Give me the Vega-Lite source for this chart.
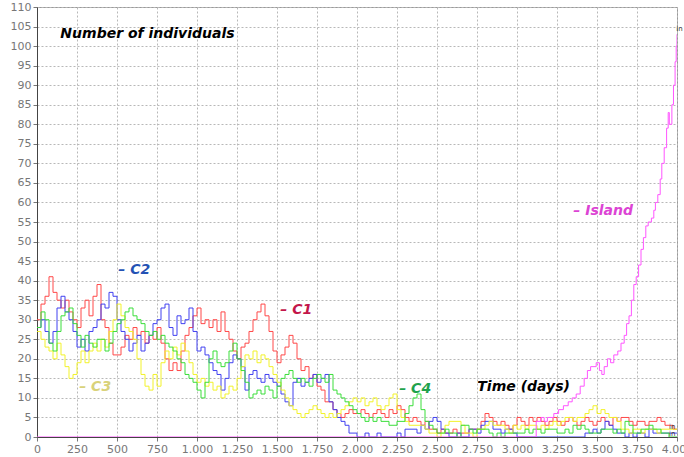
{
  "$schema": "https://vega.github.io/schema/vega-lite/v6.json",
  "width": 640,
  "height": 430,
  "autosize": {"type": "none"},
  "padding": {"left": 37, "top": 7, "right": 7, "bottom": 20},
  "background": "white",
  "config": {
    "view": {"stroke": "#999", "strokeWidth": 1},
    "axis": {
      "labelFont": "DejaVu Sans",
      "labelFontSize": 11,
      "labelColor": "#777",
      "grid": true,
      "gridColor": "#b8b8b8",
      "gridDash": [2, 2],
      "gridWidth": 1,
      "domainColor": "#444",
      "tickColor": "#777",
      "tickSize": 4,
      "labelPadding": 2,
      "title": null
    }
  },
  "resolve": {"scale": {"color": "independent"}},
  "encoding": {
    "x": {
      "field": "t", "type": "quantitative",
      "scale": {"domain": [0, 4000], "nice": false, "zero": false},
      "axis": {
        "values": [0,250,500,750,1000,1250,1500,1750,2000,2250,2500,2750,3000,3250,3500,3750,4000],
        "labelExpr": "replace(format(datum.value, ','), ',', '.')",
        "labelFlush": false,
        "labelOverlap": false
      }
    },
    "y": {
      "field": "v", "type": "quantitative",
      "scale": {"domain": [0, 110], "nice": false},
      "axis": {
        "values": [0,5,10,15,20,25,30,35,40,45,50,55,60,65,70,75,80,85,90,95,100,105,110],
        "labelOverlap": false
      }
    }
  },
  "layer": [
    {
      "data": {"values": [
        {"t":0,"C1":30,"C2":28,"C3":27,"C4":28},
        {"t":25,"C1":34,"C2":30,"C3":25,"C4":32},
        {"t":50,"C1":36,"C2":27,"C3":23,"C4":30},
        {"t":75,"C1":41,"C2":24,"C3":22,"C4":24},
        {"t":100,"C1":37,"C2":27,"C3":20,"C4":22},
        {"t":125,"C1":35,"C2":33,"C3":24,"C4":27},
        {"t":150,"C1":33,"C2":36,"C3":21,"C4":31},
        {"t":175,"C1":35,"C2":32,"C3":18,"C4":32},
        {"t":200,"C1":32,"C2":30,"C3":15,"C4":33},
        {"t":225,"C1":30,"C2":27,"C3":16,"C4":29},
        {"t":250,"C1":28,"C2":23,"C3":19,"C4":26},
        {"t":275,"C1":33,"C2":25,"C3":22,"C4":23},
        {"t":300,"C1":35,"C2":22,"C3":19,"C4":26},
        {"t":325,"C1":31,"C2":27,"C3":22,"C4":24},
        {"t":350,"C1":36,"C2":28,"C3":24,"C4":23},
        {"t":375,"C1":39,"C2":30,"C3":22,"C4":25},
        {"t":400,"C1":30,"C2":34,"C3":25,"C4":25},
        {"t":425,"C1":28,"C2":33,"C3":23,"C4":22},
        {"t":450,"C1":24,"C2":37,"C3":27,"C4":24},
        {"t":475,"C1":21,"C2":36,"C3":30,"C4":27},
        {"t":500,"C1":21,"C2":30,"C3":34,"C4":29},
        {"t":525,"C1":23,"C2":27,"C3":31,"C4":30},
        {"t":550,"C1":26,"C2":25,"C3":28,"C4":32},
        {"t":575,"C1":25,"C2":22,"C3":27,"C4":33},
        {"t":600,"C1":28,"C2":24,"C3":25,"C4":31},
        {"t":625,"C1":26,"C2":26,"C3":20,"C4":30},
        {"t":650,"C1":27,"C2":22,"C3":16,"C4":29},
        {"t":675,"C1":24,"C2":24,"C3":13,"C4":27},
        {"t":700,"C1":26,"C2":26,"C3":12,"C4":26},
        {"t":725,"C1":25,"C2":29,"C3":16,"C4":27},
        {"t":750,"C1":28,"C2":30,"C3":13,"C4":25},
        {"t":775,"C1":24,"C2":33,"C3":19,"C4":26},
        {"t":800,"C1":20,"C2":34,"C3":22,"C4":24},
        {"t":825,"C1":17,"C2":28,"C3":20,"C4":23},
        {"t":850,"C1":19,"C2":26,"C3":23,"C4":22},
        {"t":875,"C1":17,"C2":31,"C3":21,"C4":20},
        {"t":900,"C1":22,"C2":29,"C3":24,"C4":19},
        {"t":925,"C1":26,"C2":30,"C3":22,"C4":16},
        {"t":950,"C1":28,"C2":33,"C3":19,"C4":15},
        {"t":975,"C1":31,"C2":27,"C3":16,"C4":14},
        {"t":1000,"C1":33,"C2":22,"C3":14,"C4":12},
        {"t":1025,"C1":29,"C2":23,"C3":15,"C4":10},
        {"t":1050,"C1":30,"C2":21,"C3":13,"C4":14},
        {"t":1075,"C1":28,"C2":19,"C3":14,"C4":20},
        {"t":1100,"C1":30,"C2":17,"C3":12,"C4":22},
        {"t":1125,"C1":27,"C2":16,"C3":13,"C4":19},
        {"t":1150,"C1":32,"C2":12,"C3":10,"C4":18},
        {"t":1175,"C1":27,"C2":15,"C3":11,"C4":19},
        {"t":1200,"C1":25,"C2":19,"C3":13,"C4":22},
        {"t":1225,"C1":22,"C2":21,"C3":12,"C4":24},
        {"t":1250,"C1":20,"C2":20,"C3":15,"C4":20},
        {"t":1275,"C1":23,"C2":18,"C3":18,"C4":17},
        {"t":1300,"C1":24,"C2":12,"C3":21,"C4":14},
        {"t":1325,"C1":27,"C2":16,"C3":20,"C4":10},
        {"t":1350,"C1":30,"C2":17,"C3":22,"C4":11},
        {"t":1375,"C1":32,"C2":15,"C3":19,"C4":12},
        {"t":1400,"C1":34,"C2":14,"C3":21,"C4":11},
        {"t":1425,"C1":31,"C2":16,"C3":20,"C4":13},
        {"t":1450,"C1":27,"C2":15,"C3":18,"C4":12},
        {"t":1475,"C1":22,"C2":14,"C3":16,"C4":10},
        {"t":1500,"C1":19,"C2":13,"C3":14,"C4":13},
        {"t":1525,"C1":21,"C2":11,"C3":12,"C4":15},
        {"t":1550,"C1":23,"C2":9,"C3":10,"C4":16},
        {"t":1575,"C1":26,"C2":8,"C3":8,"C4":17},
        {"t":1600,"C1":24,"C2":14,"C3":7,"C4":15},
        {"t":1625,"C1":20,"C2":15,"C3":6,"C4":14},
        {"t":1650,"C1":17,"C2":13,"C3":5,"C4":15},
        {"t":1675,"C1":18,"C2":14,"C3":6,"C4":14},
        {"t":1700,"C1":15,"C2":15,"C3":7,"C4":13},
        {"t":1725,"C1":16,"C2":16,"C3":8,"C4":15},
        {"t":1750,"C1":13,"C2":14,"C3":7,"C4":16},
        {"t":1775,"C1":12,"C2":15,"C3":6,"C4":15},
        {"t":1800,"C1":9,"C2":16,"C3":5,"C4":14},
        {"t":1825,"C1":9,"C2":9,"C3":6,"C4":16},
        {"t":1850,"C1":7,"C2":7,"C3":5,"C4":12},
        {"t":1875,"C1":6,"C2":5,"C3":6,"C4":11},
        {"t":1900,"C1":5,"C2":4,"C3":7,"C4":10},
        {"t":1925,"C1":6,"C2":3,"C3":8,"C4":9},
        {"t":1950,"C1":7,"C2":1,"C3":9,"C4":8},
        {"t":1975,"C1":6,"C2":1,"C3":10,"C4":7},
        {"t":2000,"C1":6,"C2":0,"C3":9,"C4":6},
        {"t":2025,"C1":7,"C2":0,"C3":10,"C4":5},
        {"t":2050,"C1":6,"C2":1,"C3":8,"C4":4},
        {"t":2075,"C1":5,"C2":0,"C3":9,"C4":5},
        {"t":2100,"C1":6,"C2":0,"C3":10,"C4":4},
        {"t":2125,"C1":7,"C2":1,"C3":8,"C4":5},
        {"t":2150,"C1":6,"C2":0,"C3":7,"C4":4},
        {"t":2175,"C1":5,"C2":0,"C3":8,"C4":4},
        {"t":2200,"C1":7,"C2":0,"C3":10,"C4":3},
        {"t":2225,"C1":6,"C2":0,"C3":11,"C4":3},
        {"t":2250,"C1":8,"C2":1,"C3":7,"C4":4},
        {"t":2275,"C1":7,"C2":0,"C3":5,"C4":4},
        {"t":2300,"C1":5,"C2":2,"C3":4,"C4":6},
        {"t":2325,"C1":4,"C2":2,"C3":3,"C4":8},
        {"t":2350,"C1":5,"C2":2,"C3":3,"C4":10},
        {"t":2375,"C1":4,"C2":1,"C3":3,"C4":11},
        {"t":2400,"C1":3,"C2":3,"C3":3,"C4":7},
        {"t":2425,"C1":4,"C2":2,"C3":2,"C4":4},
        {"t":2450,"C1":2,"C2":4,"C3":1,"C4":3},
        {"t":2475,"C1":2,"C2":5,"C3":1,"C4":2},
        {"t":2500,"C1":1,"C2":4,"C3":0,"C4":1},
        {"t":2525,"C1":2,"C2":2,"C3":1,"C4":1},
        {"t":2550,"C1":1,"C2":1,"C3":3,"C4":2},
        {"t":2575,"C1":1,"C2":0,"C3":4,"C4":1},
        {"t":2600,"C1":2,"C2":0,"C3":4,"C4":1},
        {"t":2625,"C1":1,"C2":1,"C3":4,"C4":0},
        {"t":2650,"C1":1,"C2":0,"C3":3,"C4":3},
        {"t":2675,"C1":1,"C2":0,"C3":1,"C4":3},
        {"t":2700,"C1":2,"C2":2,"C3":1,"C4":2},
        {"t":2725,"C1":2,"C2":2,"C3":0,"C4":1},
        {"t":2750,"C1":2,"C2":1,"C3":2,"C4":2},
        {"t":2775,"C1":4,"C2":3,"C3":2,"C4":2},
        {"t":2800,"C1":6,"C2":4,"C3":3,"C4":2},
        {"t":2825,"C1":5,"C2":4,"C3":4,"C4":1},
        {"t":2850,"C1":4,"C2":2,"C3":3,"C4":0},
        {"t":2875,"C1":3,"C2":2,"C3":3,"C4":1},
        {"t":2900,"C1":4,"C2":1,"C3":3,"C4":0},
        {"t":2925,"C1":3,"C2":2,"C3":2,"C4":1},
        {"t":2950,"C1":2,"C2":2,"C3":1,"C4":1},
        {"t":2975,"C1":3,"C2":1,"C3":3,"C4":1},
        {"t":3000,"C1":5,"C2":0,"C3":2,"C4":1},
        {"t":3025,"C1":4,"C2":0,"C3":3,"C4":1},
        {"t":3050,"C1":3,"C2":0,"C3":2,"C4":2},
        {"t":3075,"C1":5,"C2":0,"C3":3,"C4":1},
        {"t":3100,"C1":4,"C2":0,"C3":3,"C4":2},
        {"t":3125,"C1":5,"C2":0,"C3":2,"C4":2},
        {"t":3150,"C1":4,"C2":0,"C3":3,"C4":1},
        {"t":3175,"C1":3,"C2":0,"C3":2,"C4":2},
        {"t":3200,"C1":4,"C2":0,"C3":3,"C4":2},
        {"t":3225,"C1":5,"C2":0,"C3":4,"C4":2},
        {"t":3250,"C1":4,"C2":0,"C3":3,"C4":1},
        {"t":3275,"C1":3,"C2":0,"C3":4,"C4":1},
        {"t":3300,"C1":4,"C2":0,"C3":5,"C4":2},
        {"t":3325,"C1":5,"C2":0,"C3":5,"C4":1},
        {"t":3350,"C1":4,"C2":0,"C3":4,"C4":3},
        {"t":3375,"C1":3,"C2":0,"C3":5,"C4":2},
        {"t":3400,"C1":4,"C2":0,"C3":5,"C4":3},
        {"t":3425,"C1":5,"C2":1,"C3":6,"C4":2},
        {"t":3450,"C1":4,"C2":1,"C3":7,"C4":1},
        {"t":3475,"C1":3,"C2":2,"C3":8,"C4":1},
        {"t":3500,"C1":4,"C2":1,"C3":6,"C4":1},
        {"t":3525,"C1":5,"C2":2,"C3":7,"C4":2},
        {"t":3550,"C1":4,"C2":4,"C3":6,"C4":2},
        {"t":3575,"C1":3,"C2":3,"C3":5,"C4":2},
        {"t":3600,"C1":5,"C2":2,"C3":5,"C4":1},
        {"t":3625,"C1":4,"C2":1,"C3":4,"C4":2},
        {"t":3650,"C1":5,"C2":1,"C3":2,"C4":1},
        {"t":3675,"C1":5,"C2":0,"C3":2,"C4":4},
        {"t":3700,"C1":4,"C2":1,"C3":1,"C4":3},
        {"t":3725,"C1":3,"C2":0,"C3":2,"C4":1},
        {"t":3750,"C1":4,"C2":1,"C3":2,"C4":1},
        {"t":3775,"C1":4,"C2":1,"C3":1,"C4":2},
        {"t":3800,"C1":3,"C2":0,"C3":2,"C4":2},
        {"t":3825,"C1":4,"C2":2,"C3":2,"C4":3},
        {"t":3850,"C1":4,"C2":1,"C3":2,"C4":2},
        {"t":3875,"C1":5,"C2":1,"C3":1,"C4":2},
        {"t":3900,"C1":4,"C2":1,"C3":2,"C4":1},
        {"t":3925,"C1":3,"C2":1,"C3":2,"C4":1},
        {"t":3950,"C1":3,"C2":1,"C3":2,"C4":0},
        {"t":3975,"C1":2,"C2":1,"C3":2,"C4":0},
        {"t":4000,"C1":2,"C2":1,"C3":2,"C4":0}
      ]},
      "transform": [{"fold": ["C1", "C2", "C3", "C4"], "as": ["s", "v"]}],
      "mark": {"type": "line", "interpolate": "step-after", "strokeWidth": 1, "clip": true},
      "encoding": {
        "color": {
          "field": "s", "type": "nominal",
          "scale": {"domain": ["C1", "C2", "C3", "C4"], "range": ["#ff4848", "#4040f0", "#f2f22a", "#3ade3a"]},
          "legend": null
        },
        "detail": {"field": "s"}
      }
    },
    {
      "data": {"values": [
        {"t":0,"v":0},{"t":3110,"v":0},{"t":3120,"v":4},{"t":3150,"v":5},{"t":3170,"v":4},
        {"t":3190,"v":5},{"t":3230,"v":6},{"t":3260,"v":7},{"t":3290,"v":8},{"t":3320,"v":9},
        {"t":3345,"v":10},{"t":3370,"v":11},{"t":3395,"v":13},{"t":3420,"v":15},{"t":3440,"v":17},
        {"t":3460,"v":18},{"t":3495,"v":19},{"t":3515,"v":17},{"t":3530,"v":16},{"t":3545,"v":18},
        {"t":3565,"v":20},{"t":3585,"v":19},{"t":3605,"v":21},{"t":3630,"v":22},{"t":3650,"v":24},
        {"t":3670,"v":26},{"t":3685,"v":29},{"t":3700,"v":31},{"t":3715,"v":35},{"t":3730,"v":39},
        {"t":3745,"v":41},{"t":3760,"v":44},{"t":3775,"v":48},{"t":3790,"v":51},{"t":3805,"v":54},
        {"t":3820,"v":55},{"t":3840,"v":56},{"t":3855,"v":58},{"t":3865,"v":60},{"t":3880,"v":62},
        {"t":3895,"v":66},{"t":3905,"v":70},{"t":3920,"v":74},{"t":3935,"v":79},{"t":3945,"v":83},
        {"t":3952,"v":80},{"t":3968,"v":85},{"t":3978,"v":90},{"t":3988,"v":96},{"t":3995,"v":100},
        {"t":4000,"v":103}
      ]},
      "mark": {"type": "line", "interpolate": "step-after", "strokeWidth": 1, "color": "#ff55ff", "clip": true},
      "encoding": {}
    },
    {
      "data": {"values": [
        {"t":146,"v":103.2,"label":"Number of individuals"},
        {"t":508,"v":42.8,"label":"– C2"},
        {"t":1521,"v":32.6,"label":"– C1"},
        {"t":264,"v":12.7,"label":"– C3"},
        {"t":2264,"v":12.4,"label":"– C4"},
        {"t":2752,"v":12.7,"label":"Time (days)"},
        {"t":3352,"v":57.7,"label":"– Island"}
      ]},
      "mark": {"type": "text", "align": "left", "baseline": "middle", "font": "DejaVu Sans", "fontSize": 14, "fontWeight": "bold", "fontStyle": "italic"},
      "encoding": {
        "text": {"field": "label"},
        "color": {
          "field": "label", "type": "nominal",
          "scale": {
            "domain": ["Number of individuals", "– C2", "– C1", "– C3", "– C4", "Time (days)", "– Island"],
            "range": ["#000000", "#2452b4", "#c3164a", "#d9d27a", "#1fa24c", "#000000", "#dc44d4"]
          },
          "legend": null
        }
      }
    },
    {
      "data": {"values": [
        {"t":3995,"v":104.5,"label":"in"},
        {"t":3950,"v":2.6,"label":"in"},
        {"t":3950,"v":0.7,"label":"in"}
      ]},
      "mark": {"type": "text", "align": "left", "baseline": "middle", "font": "DejaVu Sans", "fontSize": 7, "color": "#333"},
      "encoding": {
        "text": {"field": "label"}
      }
    }
  ]
}
